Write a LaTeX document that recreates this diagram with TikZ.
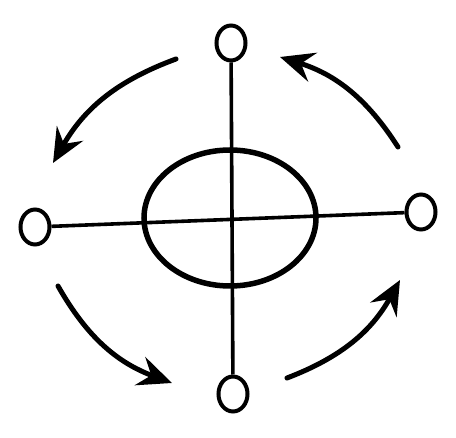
\documentclass[tikz,border=0pt]{standalone}
\usetikzlibrary{arrows.meta}
\usetikzlibrary{shapes.geometric}
\usetikzlibrary{positioning}
\tikzset{
  pole/.style={draw, ellipse, line width=4pt, fill=white, inner sep=0pt, minimum width=29pt, minimum height=35pt},
  spin/.style={line width=5pt, line cap=round, -{Stealth[length=34pt, width=30pt, inset=12pt]}}
}

\begin{document}
\begin{tikzpicture}[x=1pt, y=-1pt]
  \useasboundingbox (0,0) rectangle (456,438);
  % draw core
  \node[draw, ellipse, line width=5.5pt, inner sep=0pt, minimum width=172pt, minimum height=136pt] (core) at (230,218) {};
  % draw poles
  \node[pole] (top) at (231,43) {};
  \node[pole] (bottom) at (233,394) {};
  \node[pole] (left) at (35,227) {};
  \node[pole] (right) at (421,212) {};
  % draw axes
  \draw[line width=3.6pt] (top) -- (bottom);
  \draw[line width=3.6pt] (left) -- (right);
  % add arrows
  \coordinate (tlA) at (176,59);
  \coordinate (tlB) at (53,163);
  \coordinate (trA) at (398,147);
  \coordinate (trB) at (280,57);
  \coordinate (blA) at (58,286);
  \coordinate (blB) at (172,383);
  \coordinate (brA) at (287,378);
  \coordinate (brB) at (400,280);
  \draw[spin] (tlA) to[bend right=20] (tlB);
  \draw[spin] (trA) to[bend right=20] (trB);
  \draw[spin] (blA) to[bend right=20] (blB);
  \draw[spin] (brA) to[bend right=20] (brB);
\end{tikzpicture}
\end{document}
